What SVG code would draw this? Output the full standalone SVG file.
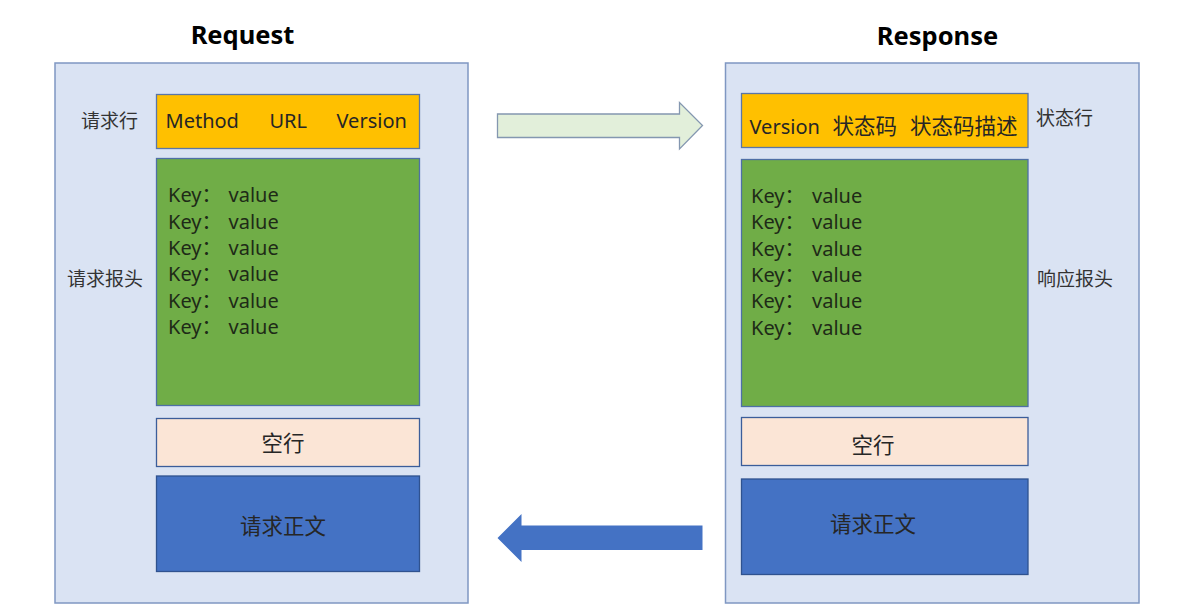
<svg xmlns="http://www.w3.org/2000/svg" width="1199" height="612" viewBox="0 0 1199 612">
<style>
.outer{fill:#DAE3F3;stroke:#7F97C2;stroke-width:1.5}
.yel{fill:#FFC000;stroke:#5A76A8;stroke-width:1.3}
.grn{fill:#70AD47;stroke:#4E6FA6;stroke-width:1.3}
.emp{fill:#FBE5D6;stroke:#3B5D9A;stroke-width:1.3}
.blu{fill:#4472C4;stroke:#2F528F;stroke-width:1.3}
text{font-family:"Noto Sans","Noto Sans CJK SC",sans-serif}
.title{font-size:25.5px;font-weight:bold;fill:#000;text-anchor:middle}
.lat{font-size:20px;fill:#262626}
.cjk{font-family:"Noto Sans CJK SC",sans-serif;fill:#262626}
.lbl{font-family:"Noto Sans CJK SC",sans-serif;font-size:19px;fill:#333}
.kv{font-size:20px;fill:#1E2A17}
.mid{text-anchor:middle;dominant-baseline:central;font-size:21.5px}
</style>
<g id="request">
<text class="title" x="242.5" y="44">Request</text>
<rect class="outer" x="55" y="63" width="413" height="540"/>
</g>
<g id="response">
<text class="title" x="937.5" y="45">Response</text>
<rect class="outer" x="725.5" y="63" width="413.5" height="540"/>
</g>
<g id="req-line">
<rect class="yel" x="156.5" y="94.5" width="263" height="54"/>
<text class="lat" x="165.5" y="128">Method</text>
<text class="lat" x="269.5" y="128">URL</text>
<text class="lat" x="336.5" y="128">Version</text>
<text class="lbl" x="81" y="119.5" dominant-baseline="central">请求行</text>
</g>
<g id="req-headers">
<rect class="grn" x="156.5" y="158.5" width="263" height="247"/>
<text class="kv" x="168" y="202.3">Key：</text><text class="kv" x="228.5" y="202.3">value</text>
<text class="kv" x="168" y="228.6">Key：</text><text class="kv" x="228.5" y="228.6">value</text>
<text class="kv" x="168" y="254.9">Key：</text><text class="kv" x="228.5" y="254.9">value</text>
<text class="kv" x="168" y="281.2">Key：</text><text class="kv" x="228.5" y="281.2">value</text>
<text class="kv" x="168" y="307.5">Key：</text><text class="kv" x="228.5" y="307.5">value</text>
<text class="kv" x="168" y="333.8">Key：</text><text class="kv" x="228.5" y="333.8">value</text>
<text class="lbl" x="67" y="277" dominant-baseline="central">请求报头</text>
</g>
<g id="req-empty">
<rect class="emp" x="156.5" y="418.5" width="263" height="48"/>
<text class="cjk mid" x="283" y="441">空行</text>
</g>
<g id="req-body">
<rect class="blu" x="156.5" y="476" width="263" height="95.5"/>
<text class="cjk mid" x="283" y="524.5">请求正文</text>
</g>
<g id="resp-line">
<rect class="yel" x="741.5" y="93.5" width="286.5" height="54"/>
<text class="lat" x="749.5" y="133.5">Version</text>
<text class="cjk" x="832.5" y="133.5" font-size="21.5">状态码</text>
<text class="cjk" x="910" y="133.5" font-size="21.5">状态码描述</text>
<text class="lbl" x="1036" y="116" dominant-baseline="central">状态行</text>
</g>
<g id="resp-headers">
<rect class="grn" x="741.5" y="159.5" width="286.5" height="247"/>
<text class="kv" x="751" y="203">Key：</text><text class="kv" x="812" y="203">value</text>
<text class="kv" x="751" y="229.3">Key：</text><text class="kv" x="812" y="229.3">value</text>
<text class="kv" x="751" y="255.6">Key：</text><text class="kv" x="812" y="255.6">value</text>
<text class="kv" x="751" y="281.9">Key：</text><text class="kv" x="812" y="281.9">value</text>
<text class="kv" x="751" y="308.2">Key：</text><text class="kv" x="812" y="308.2">value</text>
<text class="kv" x="751" y="334.5">Key：</text><text class="kv" x="812" y="334.5">value</text>
<text class="lbl" x="1037" y="277" dominant-baseline="central">响应报头</text>
</g>
<g id="resp-empty">
<rect class="emp" x="741.5" y="417.5" width="286.5" height="48"/>
<text class="cjk mid" x="873" y="443">空行</text>
</g>
<g id="resp-body">
<rect class="blu" x="741.5" y="479" width="286.5" height="95.5"/>
<text class="cjk mid" x="873" y="522">请求正文</text>
</g>
<g id="connectors">
<polygon points="497.5,114 679.5,114 679.5,102.5 702.5,125.5 679.5,149 679.5,137.5 497.5,137.5" fill="#E2EFDA" stroke="#8497B0" stroke-width="1.3"/>
<polygon points="702.5,525.5 521.5,525.5 521.5,514 497.5,538 521.5,562 521.5,550 702.5,550" fill="#4472C4"/>
</g>
</svg>
